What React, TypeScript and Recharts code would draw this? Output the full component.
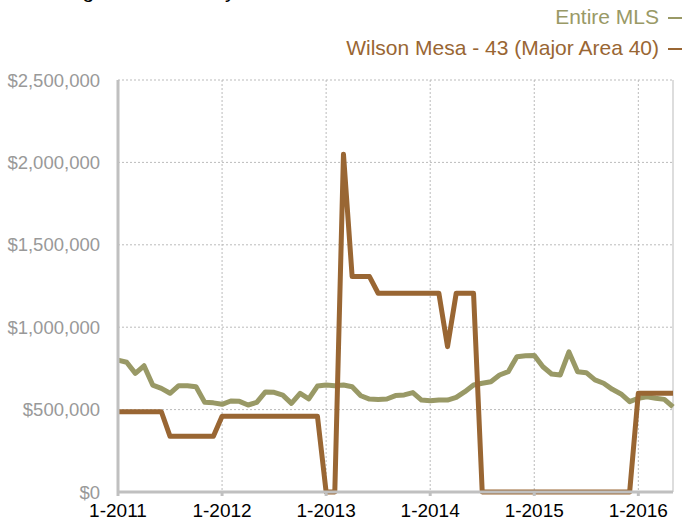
import React from 'react';
import {
  LineChart,
  Line,
  XAxis,
  YAxis,
  CartesianGrid,
  ReferenceLine,
} from 'recharts';

// month index 0 = 1-2011, one point per month through 5-2016
const MLS_VALUES = [
  800000, 787000, 720000, 766000, 649000, 629000, 599000, 645000, 645000, 639000, 544000, 541000,
  532000, 552000, 550000, 528000, 544000, 607000, 605000, 588000, 538000, 599000, 565000, 643000,
  649000, 645000, 649000, 639000, 584000, 564000, 562000, 564000, 585000, 589000, 603000, 558000,
  554000, 558000, 558000, 574000, 609000, 649000, 660000, 669000, 710000, 730000, 821000, 827000,
  829000, 760000, 716000, 710000, 850000, 730000, 724000, 680000, 660000, 623000, 595000, 548000,
  569000, 578000, 569000, 562000, 516000,
];

const WILSON_VALUES = [
  487000, 487000, 487000, 487000, 487000, 487000, 338000, 338000, 338000, 338000, 338000, 338000,
  460000, 460000, 460000, 460000, 460000, 460000, 460000, 460000, 460000, 460000, 460000, 460000,
  0, 0, 2050000, 1307000, 1307000, 1307000, 1206000, 1206000, 1206000, 1206000, 1206000, 1206000,
  1206000, 1206000, 882000, 1206000, 1206000, 1206000, 0, 0, 0, 0, 0, 0,
  0, 0, 0, 0, 0, 0, 0, 0, 0, 0, 0, 0,
  599000, 599000, 599000, 599000, 599000,
];

const X_TICKS = [0, 12, 24, 36, 48, 60];
const X_TICK_LABELS = ['1-2011', '1-2012', '1-2013', '1-2014', '1-2015', '1-2016'];
const Y_TICKS = [0, 500000, 1000000, 1500000, 2000000, 2500000];

const MLS_COLOR = '#999966';
const WILSON_COLOR = '#996633';
const FONT = '"Liberation Sans", Arial, sans-serif';

const data = MLS_VALUES.map((mls, i) => ({ idx: i, mls, wilson: WILSON_VALUES[i] }));

const fmtMoney = (v: number) => `$${v.toLocaleString('en-US')}`;

export default function App() {
  return (
    <div
      style={{
        position: 'absolute',
        top: 0,
        left: 0,
        width: 689,
        height: 525,
        overflow: 'hidden',
        background: '#fff',
        fontFamily: FONT,
      }}
    >
      {/* title, mostly above the visible area */}
      <div style={{ position: 'absolute', left: 28, top: -21, fontSize: 21, lineHeight: '24px', color: '#000', whiteSpace: 'nowrap' }}>
        Average Sale Price by Month
      </div>

      {/* legend */}
      <div style={{ position: 'absolute', right: 7, top: 1, textAlign: 'right', fontSize: 21, lineHeight: '31px' }}>
        <div style={{ color: MLS_COLOR }}>
          Entire MLS
          <span style={{ display: 'inline-block', width: 14, height: 2, background: MLS_COLOR, marginLeft: 9, verticalAlign: 'middle' }} />
        </div>
        <div style={{ color: WILSON_COLOR }}>
          Wilson Mesa - 43 (Major Area 40)
          <span style={{ display: 'inline-block', width: 14, height: 2, background: WILSON_COLOR, marginLeft: 9, verticalAlign: 'middle' }} />
        </div>
      </div>

      <LineChart
        width={689}
        height={525}
        data={data}
        margin={{ top: 80, right: 16, bottom: 3, left: 0 }}
        style={{ position: 'absolute', top: 0, left: 0 }}
      >
        <CartesianGrid stroke="#bbbbbb" strokeDasharray="2 2" />
        <XAxis
          dataKey="idx"
          type="number"
          domain={[0, 64]}
          ticks={X_TICKS}
          tickFormatter={(v: number) => X_TICK_LABELS[X_TICKS.indexOf(v)] ?? ''}
          height={30}
          axisLine={{ stroke: '#c0c0c0', strokeWidth: 3 }}
          tickLine={{ stroke: '#c0c0c0', strokeWidth: 3 }}
          tickSize={4}
          tickMargin={8}
          tick={{ fill: '#000', fontSize: 19, fontFamily: FONT }}
          interval={0}
        />
        <YAxis
          type="number"
          domain={[0, 2500000]}
          ticks={Y_TICKS}
          tickFormatter={fmtMoney}
          width={118}
          axisLine={{ stroke: '#c0c0c0', strokeWidth: 3 }}
          tickLine={false}
          tickSize={6}
          tickMargin={12}
          tick={{ fill: '#999999', fontSize: 18.5, fontFamily: FONT }}
          interval={0}
        />
        <ReferenceLine x={64} stroke="#bbbbbb" strokeDasharray="2 2" />
        <Line
          type="linear"
          dataKey="mls"
          stroke={MLS_COLOR}
          strokeWidth={5}
          strokeLinejoin="round"
          dot={false}
          isAnimationActive={false}
        />
        <Line
          type="linear"
          dataKey="wilson"
          stroke={WILSON_COLOR}
          strokeWidth={5}
          strokeLinejoin="round"
          dot={false}
          isAnimationActive={false}
        />
      </LineChart>
    </div>
  );
}
